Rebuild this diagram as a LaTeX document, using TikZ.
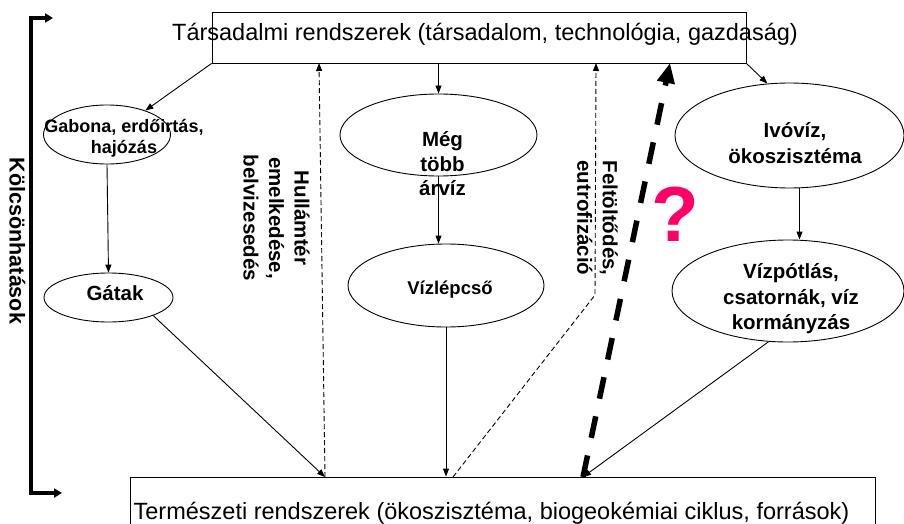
\documentclass[tikz,border=0pt]{standalone}
\usepackage{fontspec}
\setmainfont{Liberation Sans}
\usetikzlibrary{arrows.meta,shapes.geometric,calc}
\definecolor{qmag}{HTML}{FF0066}
\begin{document}
\begin{tikzpicture}[x=1pt,y=-1pt,
  conn/.style={line width=0.9pt,-{Triangle[length=8pt,width=6pt]}},
  dashconn/.style={line width=0.9pt,dash pattern=on 5pt off 3pt,-{Triangle[length=8pt,width=6pt]}},
  bigdash/.style={line width=5.5pt,dash pattern=on 22pt off 18pt,-{Triangle[length=20pt,width=17pt]}},
  ell/.style={ellipse,draw,line width=0.9pt,inner sep=0pt},
  boxn/.style={draw,line width=0.9pt,inner sep=0pt},
  lbl/.style={font=\fontsize{20.5}{25.5}\selectfont\bfseries,align=center,inner sep=0pt},
  big/.style={font=\fontsize{23.5}{28}\selectfont,inner sep=0pt}
]
\useasboundingbox (0,0) rectangle (904,524);

% boxes
\node[boxn,minimum width=534pt,minimum height=51pt] (tar) at (479,37.5) {};
\node[big] (tart) at (485,34) {Társadalmi rendszerek (társadalom, technológia, gazdaság)};
\node[boxn,minimum width=745pt,minimum height=80pt] (nat) at (502.5,517) {};
\node[big] (natt) at (491.5,513) {Természeti rendszerek (ökoszisztéma, biogeokémiai ciklus, források)};

% ellipses
\node[ell,minimum width=127pt,minimum height=59pt] (gab) at (107,134.5) {};
\node[ell,minimum width=129pt,minimum height=49pt] (gat) at (108.5,297.5) {};
\node[ell,minimum width=197pt,minimum height=82pt] (meg) at (438.5,135) {};
\node[ell,minimum width=196pt,minimum height=83pt] (viz) at (446,285.5) {};
\node[ell,minimum width=229pt,minimum height=105pt] (ivo) at (789.5,135.5) {};
\node[ell,minimum width=232pt,minimum height=102pt] (pot) at (788,291) {};

% texts
\node[lbl,font=\fontsize{18}{21.5}\selectfont\bfseries] (gabt) at (124,138.5) {Gabona, erdőirtás,\\hajózás};
\node[lbl] (gatt) at (115,293) {Gátak};
\node[lbl,font=\fontsize{20.5}{24.5}\selectfont\bfseries] (megt) at (442.5,164) {Még\\több\\árvíz};
\node[lbl,font=\fontsize{18.5}{23}\selectfont\bfseries] (vizt) at (450,290) {Vízlépcső};
\node[lbl] (ivot) at (795,143) {Ivóvíz,\\ökoszisztéma};
\node[lbl] (pott) at (791,299) {Vízpótlás,\\csatornák, víz\\kormányzás};
\node[lbl,rotate=-90] (hult) at (276.5,218) {Hullámtér\\emelkedése,\\belvizesedés};
\node[lbl,rotate=-90] (felt) at (597.5,218) {Feltöltődés,\\eutrofizáció};
\node[lbl,rotate=-90,font=\fontsize{21.5}{26}\selectfont\bfseries] (kolt) at (17.5,241) {Kölcsönhatások};
\node[font=\fontsize{78}{80}\selectfont\bfseries,text=qmag,inner sep=0pt] (qm) at (675,214) {?};

% coordinates
\coordinate (k1) at (31,18);
\coordinate (k1e) at (53,18);
\coordinate (k2) at (31,493);
\coordinate (k2e) at (62,493);
\coordinate (n1) at (325,477);
\coordinate (n2) at (453,477);
\coordinate (n3) at (583,477);
\coordinate (t1) at (319,63);
\coordinate (t2) at (596,63);
\coordinate (t3) at (670,63);
\coordinate (f1) at (595,295);

% bracket
\draw[line width=3.2pt,line join=miter,{Triangle[length=8pt,width=9pt]}-{Triangle[length=8pt,width=9pt]}] (k1e) -- (k1) -- (k2) -- (k2e);

% connectors
\draw[conn] (tar.south west) -- (gab.32);
\draw[conn] (gab.south) -- (gat.north);
\draw[conn] (meg.north |- tar.south) -- (meg.north);
\draw[conn] (meg.south) -- (meg.south |- viz.north);
\draw[conn] (viz.south) -- (viz.south |- nat.north);
\draw[conn] (tar.south east) -- (ivo.113);
\draw[conn] ([xshift=10pt]ivo.south) -- ([xshift=10pt]ivo.south |- pot.north);
\draw[conn] (gat.-22) -- (n1);
\draw[conn] (pot.249) -- (n3);
\draw[dashconn] (n1) -- (t1);
\draw[dashconn] (n2) -- (f1) -- (t2);
\draw[bigdash] (n3) -- (t3);
\end{tikzpicture}
\end{document}
